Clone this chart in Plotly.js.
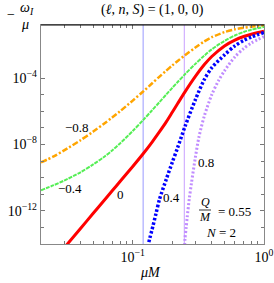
<!DOCTYPE html>
<html><head><meta charset="utf-8">
<script src="https://cdn.plot.ly/plotly-3.0.1.min.js"></script>
<style>html,body{margin:0;padding:0;background:#fff;}#chart{width:274px;height:283px;}</style>
</head><body><div id="chart"></div>
<script>
// curve labels (parameter values)
const seriesLabels = ["−0.8", "−0.4", "0", "0.4", "0.8"];

// orange (−0.8)
const xOrange = [0.02,0.025,0.03,0.04,0.05,0.06,0.07,0.08,0.1,0.12,0.14,0.16,0.18,0.2,0.22,0.25,0.3,0.35,0.4,0.5,0.6,0.7,0.8,1.0];
const yOrange = [8.3e-10,1.9e-9,4.4e-9,1.8e-8,6.0e-8,1.7e-7,4.3e-7,1.0e-6,4.4e-6,1.55e-5,4.7e-5,1.23e-4,2.8e-4,5.8e-4,1.07e-3,2.4e-3,6.9e-3,1.6e-2,2.9e-2,5.9e-2,8.7e-2,0.107,0.123,0.148];

// green (−0.4)
const xGreen = [0.02,0.025,0.03,0.04,0.05,0.06,0.07,0.08,0.1,0.12,0.14,0.16,0.18,0.2,0.22,0.25,0.3,0.35,0.4,0.5,0.6,0.7,0.8,1.0];
const yGreen = [1.74e-11,3.5e-11,6.6e-11,2.1e-10,6.3e-10,1.7e-9,4.5e-9,1.15e-8,6.5e-8,2.95e-7,1.12e-6,3.6e-6,1.02e-5,2.6e-5,5.8e-5,1.7e-4,7.2e-4,2.2e-3,5.4e-3,1.74e-2,3.7e-2,6.0e-2,8.3e-2,0.12];

// red (0)
const xRed = [0.03,0.04,0.05,0.06,0.07,0.08,0.1,0.12,0.14,0.16,0.18,0.2,0.22,0.25,0.3,0.35,0.4,0.5,0.6,0.7,0.8,1.0];
const yRed = [5.8e-15,8.5e-14,7.1e-13,3.9e-12,1.66e-11,5.8e-11,4.7e-10,2.75e-9,1.35e-8,5.9e-8,2.3e-7,8.7e-7,2.95e-6,1.48e-5,1.26e-4,6.3e-4,2.0e-3,8.7e-3,1.95e-2,3.2e-2,4.4e-2,6.6e-2];

// blue (0.4)
const xBlue = [0.128,0.13,0.135,0.14,0.15,0.16,0.18,0.2,0.22,0.25,0.3,0.35,0.4,0.5,0.6,0.7,0.8,1.0];
const yBlue = [3.8e-15,6.6e-15,2.3e-14,6.9e-14,6.3e-13,5.0e-12,7.9e-11,8.3e-10,6.6e-9,1.2e-7,5.0e-6,7.9e-5,4.2e-4,2.5e-3,8.7e-3,1.86e-2,3.0e-2,5.6e-2];

// purple (0.8)
const xPurple = [0.248,0.25,0.255,0.26,0.27,0.28,0.3,0.32,0.35,0.4,0.45,0.5,0.6,0.7,0.8,1.0];
const yPurple = [5.0e-15,2.0e-14,9.1e-14,4.2e-13,5.8e-12,4.6e-11,1.66e-9,3.0e-8,4.8e-7,1.0e-5,6.9e-5,2.75e-4,1.9e-3,6.0e-3,1.3e-2,3.2e-2];

// vertical threshold lines
const thresholds = [0.12, 0.247];
const yLineSpan = [1e-14, 1];

// ticks
const xTickVals = [0.1, 1];
const xTickText = ["10<sup>−1</sup>", "10<sup>0</sup>"];
const xMinorVals = [0.03,0.04,0.05,0.06,0.07,0.08,0.09,0.2,0.3,0.4,0.5,0.6,0.7,0.8,0.9];
const yTickVals = [1e-12, 1e-8, 1e-4];
const yTickText = ["10<sup>−12</sup>", "10<sup>−8</sup>", "10<sup>−4</sup>"];
const yMinorVals = [1e-13,1e-11,1e-10,1e-9,1e-7,1e-6,1e-5];

const L = 41, R = 264, T = 25, B = 244;
function P(px, py) { return {x: (px - L) / (R - L), y: (B - py) / (B - T), xref: 'paper', yref: 'paper'}; }

const serif = "Liberation Serif, DejaVu Serif, serif";
const sp = {shape: 'spline', smoothing: 0.8};

const traces = [
  {x: [thresholds[0], thresholds[0]], y: yLineSpan, mode: 'lines', line: {color: '#9a9aff', width: 1}},
  {x: [thresholds[1], thresholds[1]], y: yLineSpan, mode: 'lines', line: {color: '#c9a0ff', width: 1}},
  {x: xOrange, y: yOrange, mode: 'lines', line: Object.assign({color: '#ffa500', width: 2.5, dash: '6px,2px,2px,2px'}, sp)},
  {x: xGreen, y: yGreen, mode: 'lines', line: Object.assign({color: '#55ee55', width: 2, dash: '4px,1px'}, sp)},
  {x: xRed, y: yRed, mode: 'lines', line: Object.assign({color: '#ff0000', width: 3}, sp)},
  {x: xBlue, y: yBlue, mode: 'lines', line: Object.assign({color: '#0000ff', width: 3.5, dash: '2.5px,2px'}, sp)},
  {x: xPurple, y: yPurple, mode: 'lines', line: Object.assign({color: '#c08cff', width: 3, dash: '2px,2px'}, sp)}
];

function ann(px, py, text, extra) {
  return Object.assign(P(px, py), {text: text, showarrow: false, font: {family: serif, size: 13, color: '#000'}, xanchor: 'center', yanchor: 'middle'}, extra || {});
}

const annotations = [
  ann(152, 10, "(<i>ℓ</i>, <i>n</i>, <i>S</i>) = (1, 0, 0)", {font: {family: serif, size: 14, color: '#000'}}),
  ann(11, 15, "−", {font: {family: serif, size: 14, color: '#000'}}),
  ann(27, 8, "<i>ω<sub>I</sub></i>", {font: {family: serif, size: 14, color: '#000'}}),
  ann(25, 24, "<i>μ</i>", {font: {family: serif, size: 14, color: '#000'}}),
  ann(150, 272, "<i>μM</i>", {font: {family: serif, size: 14, color: '#000'}}),
  ann(77, 127, seriesLabels[0]),
  ann(70, 188, seriesLabels[1]),
  ann(120, 194, seriesLabels[2]),
  ann(171, 197, seriesLabels[3]),
  ann(206, 162, seriesLabels[4]),
  ann(205, 202, "<i>Q</i>", {font: {family: serif, size: 12, color: '#000'}}),
  ann(205, 217, "<i>M</i>", {font: {family: serif, size: 12, color: '#000'}}),
  ann(234, 211, "= 0.55"),
  ann(221, 232, "<i>N</i> = 2")
];

const shapes = [
  {type: 'line', xref: 'paper', yref: 'paper', x0: 0, x1: 1, y0: 1, y1: 1, line: {color: '#000', width: 1.2}},
  Object.assign({type: 'line', line: {color: '#000', width: 0.8}}, (function(){ const a = P(199, 210), b = P(211, 210); return {xref:'paper', yref:'paper', x0: a.x, x1: b.x, y0: a.y, y1: b.y}; })())
];

const axisCommon = {
  type: 'log', ticks: 'inside', ticklen: 4, tickwidth: 1, tickcolor: '#777',
  showline: true, linecolor: '#888', linewidth: 1.2, mirror: 'allticks',
  showgrid: false, zeroline: false, tickmode: 'array',
  tickfont: {family: serif, size: 14, color: '#000'}
};

const layout = {
  width: 274, height: 283,
  margin: {l: L, r: 274 - R, t: T, b: 283 - B},
  paper_bgcolor: '#fff', plot_bgcolor: '#fff',
  showlegend: false,
  xaxis: Object.assign({}, axisCommon, {
    range: [Math.log10(0.02), 0], tickvals: xTickVals, ticktext: xTickText,
    minor: {tickmode: 'array', tickvals: xMinorVals, ticks: 'inside', ticklen: 3, tickcolor: '#777', showgrid: false}
  }),
  yaxis: Object.assign({}, axisCommon, {
    range: [-14, -0.8], tickvals: yTickVals, ticktext: yTickText,
    minor: {tickmode: 'array', tickvals: yMinorVals, ticks: 'inside', ticklen: 3, tickcolor: '#777', showgrid: false}
  }),
  annotations: annotations,
  shapes: shapes
};

Plotly.newPlot('chart', traces, layout, {staticPlot: true, displayModeBar: false});
</script>
</body></html>
